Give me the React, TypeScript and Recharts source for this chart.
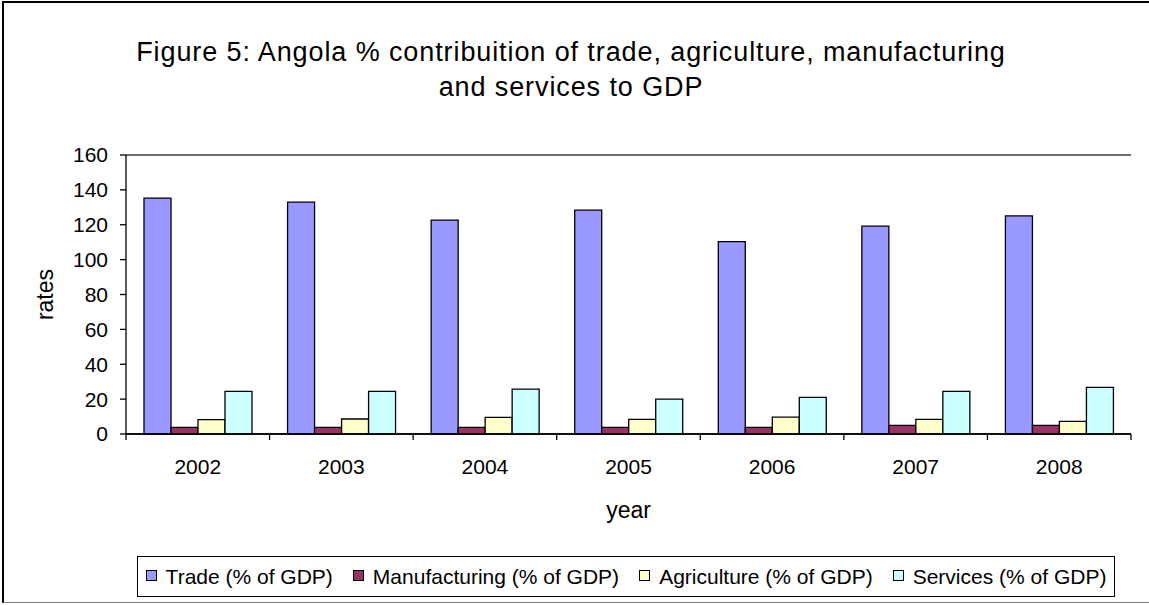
import React from 'react';
import { BarChart, Bar, XAxis, YAxis, CartesianGrid, Legend, ReferenceLine } from 'recharts';

const years = ['2002', '2003', '2004', '2005', '2006', '2007', '2008'];
const trade = [135.3, 133.0, 122.7, 128.4, 110.3, 119.2, 125.1];
const manufacturing = [3.8, 3.8, 3.8, 3.8, 3.8, 5.0, 5.0];
const agriculture = [8.2, 8.6, 9.5, 8.4, 9.7, 8.4, 7.2];
const services = [24.4, 24.4, 25.7, 20.0, 21.0, 24.4, 26.7];
const yTicks = [0, 20, 40, 60, 80, 100, 120, 140, 160];

const seriesKeys = ['trade', 'manufacturing', 'agriculture', 'services'];
const seriesNames = ['Trade (% of GDP)', 'Manufacturing (% of GDP)', 'Agriculture (% of GDP)', 'Services (% of GDP)'];
const seriesColors = ['#9999FF', '#993366', '#FFFFCC', '#CCFFFF'];

const data = years.map((y, i) => ({
  year: y,
  trade: trade[i],
  manufacturing: manufacturing[i],
  agriculture: agriculture[i],
  services: services[i],
}));

const FONT = "'Liberation Sans', Arial, sans-serif";
const W = 1149;
const H = 605;
const LEFT = 126;
const RIGHT = 18;
const TOP = 155;
const BAND = (W - LEFT - RIGHT) / years.length;

function XTick(props: any) {
  const { x, y, payload, index } = props;
  return (
    <g>
      <line x1={x - BAND / 2} x2={x - BAND / 2} y1={y} y2={y + 6} stroke="#000" strokeWidth={1.3} />
      {index === years.length - 1 && (
        <line x1={x + BAND / 2} x2={x + BAND / 2} y1={y} y2={y + 6} stroke="#000" strokeWidth={1.3} />
      )}
      <text x={x} y={y + 40} textAnchor="middle" fontSize={21} fill="#000" fontFamily={FONT}>
        {payload.value}
      </text>
    </g>
  );
}

function YLabel(props: any) {
  const vb = props.viewBox || { x: 0, y: TOP, width: LEFT, height: 279 };
  const cy = vb.y + vb.height / 2;
  const bx = 53;
  return (
    <text x={bx} y={cy} transform={`rotate(-90, ${bx}, ${cy})`} textAnchor="middle" fontSize={23} fill="#000" fontFamily={FONT}>
      rates
    </text>
  );
}

function XLabel(props: any) {
  const vb = props.viewBox || { x: LEFT, y: 434, width: W - LEFT - RIGHT, height: 171 };
  return (
    <text x={vb.x + vb.width / 2} y={vb.y + 84} textAnchor="middle" fontSize={23} fill="#000" fontFamily={FONT}>
      year
    </text>
  );
}

function LegendBox() {
  return (
    <div
      style={{
        boxSizing: 'border-box',
        width: '100%',
        height: '100%',
        border: '1.5px solid #000',
        background: '#fff',
        display: 'flex',
        alignItems: 'center',
        justifyContent: 'center',
        fontFamily: FONT,
        fontSize: 21,
        color: '#000',
        whiteSpace: 'nowrap',
      }}
    >
      {seriesNames.map((name, i) => (
        <div key={name} style={{ display: 'flex', alignItems: 'center', marginRight: i < seriesNames.length - 1 ? 20 : 0 }}>
          <span
            style={{
              display: 'inline-block',
              boxSizing: 'border-box',
              width: 11,
              height: 11,
              border: '1.5px solid #000',
              background: seriesColors[i],
              marginRight: 9,
              marginTop: -2,
            }}
          />
          <span>{name}</span>
        </div>
      ))}
    </div>
  );
}

export default function App() {
  return (
    <div style={{ position: 'absolute', left: 0, top: 0, width: W, height: H, overflow: 'hidden', background: '#fff' }}>
      <div
        style={{
          position: 'absolute',
          left: 2,
          top: 1,
          width: W + 20,
          height: H - 1 - 2,
          borderLeft: '2px solid #000',
          borderTop: '2px solid #000',
          borderBottom: '1px solid #808080',
          boxSizing: 'border-box',
        }}
      />
      <div
        style={{
          position: 'absolute',
          left: 71,
          top: 34.5,
          width: 1000,
          textAlign: 'center',
          fontFamily: FONT,
          fontSize: 27,
          letterSpacing: '0.9px',
          lineHeight: '35px',
          color: '#000',
        }}
      >
        Figure 5: Angola % contribuition of trade, agriculture, manufacturing
        <br />
        and services to GDP
      </div>
      <div style={{ position: 'absolute', left: 0, top: 0 }}>
        <BarChart
          width={W}
          height={H}
          data={data}
          margin={{ top: TOP, right: RIGHT, bottom: 0, left: 0 }}
          barGap={0}
          barCategoryGap={18}
        >
          <CartesianGrid vertical={false} stroke="#000" strokeWidth={1.3} />
          <XAxis
            dataKey="year"
            height={H - 434}
            axisLine={{ stroke: '#000', strokeWidth: 1.3 }}
            tickLine={false}
            tickSize={0}
            tickMargin={0}
            tick={<XTick />}
            interval={0}
            label={<XLabel />}
          />
          <YAxis
            yAxisId="left"
            width={LEFT}
            domain={[0, 160]}
            ticks={yTicks}
            interval={0}
            tickSize={6}
            tickMargin={12}
            axisLine={{ stroke: '#000', strokeWidth: 1.3 }}
            tickLine={{ stroke: '#000', strokeWidth: 1.3 }}
            tick={{ fill: '#000', fontSize: 21, fontFamily: FONT }}
            label={<YLabel />}
          />
          <YAxis
            yAxisId="right"
            orientation="right"
            width={0}
            domain={[0, 160]}
            tick={false}
            tickLine={false}
            axisLine={{ stroke: '#808080', strokeWidth: 1.5 }}
          />
          <ReferenceLine yAxisId="left" y={160} stroke="#808080" strokeWidth={1.5} />
          {seriesKeys.map((k, i) => (
            <Bar
              key={k}
              yAxisId="left"
              dataKey={k}
              name={seriesNames[i]}
              fill={seriesColors[i]}
              stroke="#000"
              strokeWidth={1.3}
              isAnimationActive={false}
            />
          ))}
          <Legend
            layout="horizontal"
            verticalAlign="middle"
            align="center"
            wrapperStyle={{ left: 137, top: 556, width: 978, height: 41 }}
            content={<LegendBox />}
          />
        </BarChart>
      </div>
    </div>
  );
}
